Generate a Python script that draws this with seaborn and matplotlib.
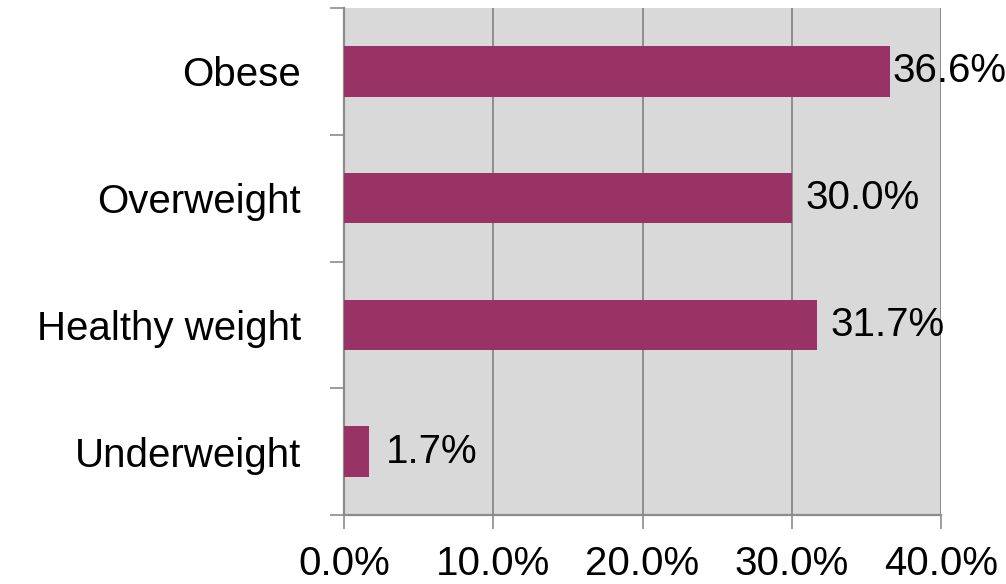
import matplotlib
matplotlib.use("Agg")
import matplotlib.pyplot as plt
import seaborn as sns
import pandas as pd
from matplotlib.ticker import FuncFormatter, FixedLocator

categories = ["Obese", "Overweight", "Healthy weight", "Underweight"]
values = [36.6, 30.0, 31.7, 1.7]
value_labels = ["36.6%", "30.0%", "31.7%", "1.7%"]
xticks = [0, 10, 20, 30, 40]

sns.set_theme(style="white")
plt.rcParams["font.family"] = ["Liberation Sans", "DejaVu Sans"]

df = pd.DataFrame({"category": categories, "value": values})

fig = plt.figure(figsize=(10.06, 5.84), dpi=100)
ax = fig.add_axes([344/1006, 1 - 515/584, (941-344)/1006, (515-8)/584])
ax.set_facecolor("#d9d9d9")

sns.barplot(data=df, x="value", y="category", orient="h", color="#993366",
            saturation=1, width=0.4, ax=ax, zorder=3, linewidth=0, edgecolor="none")

ax.set_xlim(0, 40)
ax.set_ylim(3.5, -0.5)
ax.set_xticks(xticks)
ax.xaxis.set_major_formatter(FuncFormatter(lambda v, p: f"{v:.1f}%"))
ax.grid(axis="x", color="#8c8c8c", linewidth=1.4, zorder=0)
ax.grid(axis="y", visible=False)
ax.set_axisbelow(True)
ax.set_xlabel("")
ax.set_ylabel("")

for s in ["top", "right"]:
    ax.spines[s].set_visible(False)
for s in ["left", "bottom"]:
    ax.spines[s].set_color("#8c8c8c")
    ax.spines[s].set_linewidth(1.6)

FS = 29
ax.tick_params(axis="x", which="major", length=10, width=1.2, color="#8c8c8c",
               labelsize=FS, pad=11.5, labelcolor="black", bottom=True)
ax.tick_params(axis="y", which="major", length=0, pad=31, labelsize=FS, labelcolor="black")
ax.yaxis.set_minor_locator(FixedLocator([-0.5, 0.5, 1.5, 2.5, 3.5]))
ax.tick_params(axis="y", which="minor", length=10, width=1.2, color="#8c8c8c", left=True)

offsets = [1.5, 10, 9.5, 12]
for i, (v, lab) in enumerate(zip(values, value_labels)):
    ax.annotate(lab, xy=(v, i), xytext=(offsets[i], 0), textcoords="offset points",
                ha="left", va="center", fontsize=FS, color="black", zorder=5,
                annotation_clip=False)

fig.savefig("out.png", dpi=100)
